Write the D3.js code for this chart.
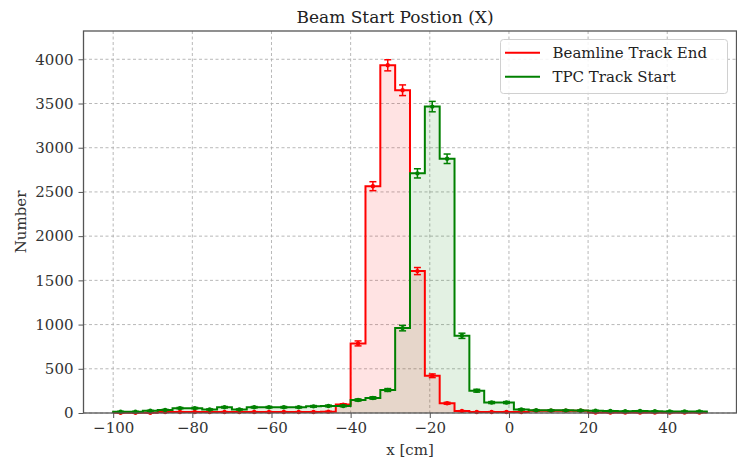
<!DOCTYPE html>
<html>
<head>
<meta charset="utf-8">
<script src="https://cdn.jsdelivr.net/npm/d3@7"></script>
<style>
  html, body { margin: 0; padding: 0; background: #fff; }
  svg { display: block; }
  text { font-family: "DejaVu Serif", "Liberation Serif", serif; }
</style>
</head>
<body>
<svg id="chart" width="737" height="460"></svg>
<script>
// Histogram binning: 40 equal bins spanning -100 .. 50 cm
const binLow = -100;
const binHigh = 50;
const binCount = 40;

// Counts per bin, Beamline track end position (x)
const beamlineCounts = [
  2, 2, 2, 12, 12, 12, 12, 12, 12, 12,
  12, 12, 12, 12, 15, 95, 787, 2565, 3932, 3650,
  1605, 421, 110, 22, 12, 12, 12, 12, 25, 25,
  25, 25, 5, 5, 5, 5, 5, 5, 5, 5
];

// Counts per bin, TPC track start position (x)
const tpcCounts = [
  15, 15, 25, 35, 55, 55, 40, 65, 40, 65,
  65, 65, 65, 75, 80, 80, 147, 170, 260, 960,
  2710, 3465, 2875, 873, 252, 118, 118, 40, 32, 30,
  30, 28, 25, 22, 20, 22, 20, 18, 18, 18
];

const seriesNames = ["Beamline Track End", "TPC Track Start"];
const seriesColors = ["#ff0000", "#008000"];

const xTicks = [-100, -80, -60, -40, -20, 0, 20, 40];
const yTicks = [0, 500, 1000, 1500, 2000, 2500, 3000, 3500, 4000];
const xDomain = [-107.5, 57.5];
const yDomain = [0, 4320];

const titleText = "Beam Start Postion (X)";
const xLabelText = "x [cm]";
const yLabelText = "Number";

// ---- layout ----
const plot = { left: 83.5, right: 736.5, top: 31, bottom: 413 };

const svg = d3.select("#chart");
const x = d3.scaleLinear().domain(xDomain).range([plot.left, plot.right]);
const y = d3.scaleLinear().domain(yDomain).range([plot.bottom, plot.top]);

const binWidth = (binHigh - binLow) / binCount;
const edges = d3.range(binCount + 1).map(i => binLow + i * binWidth);

// grid
const grid = svg.append("g");
grid.selectAll(".gx").data(xTicks).join("line")
  .attr("x1", d => x(d)).attr("x2", d => x(d))
  .attr("y1", plot.top).attr("y2", plot.bottom)
  .attr("stroke", "#b0b0b0").attr("stroke-width", 0.9)
  .attr("stroke-dasharray", "3,2.5");
grid.selectAll(".gy").data(yTicks).join("line")
  .attr("x1", plot.left).attr("x2", plot.right)
  .attr("y1", d => y(d)).attr("y2", d => y(d))
  .attr("stroke", "#b0b0b0").attr("stroke-width", 0.9)
  .attr("stroke-dasharray", "3,2.5");

// step outline path for a histogram
function stepPoints(counts) {
  const pts = [[edges[0], 0]];
  counts.forEach((c, i) => {
    pts.push([edges[i], c]);
    pts.push([edges[i + 1], c]);
  });
  pts.push([edges[binCount], 0]);
  return pts;
}
const line = d3.line().x(p => x(p[0])).y(p => y(p[1]));

const allCounts = [beamlineCounts, tpcCounts];

// filled areas
const fills = svg.append("g");
[1, 0].forEach(s => {
  fills.append("path")
    .attr("d", line(stepPoints(allCounts[s])) + "Z")
    .attr("fill", seriesColors[s])
    .attr("fill-opacity", 0.11)
    .attr("stroke", "none");
});

// outlines and error bars
const marks = svg.append("g");
[0, 1].forEach(s => {
  const counts = allCounts[s];
  const col = seriesColors[s];
  marks.append("path")
    .attr("d", line(stepPoints(counts)))
    .attr("fill", "none")
    .attr("stroke", col)
    .attr("stroke-width", 2)
    .attr("stroke-linejoin", "miter");

  const eb = marks.append("g");
  counts.forEach((c, i) => {
    const cx = x((edges[i] + edges[i + 1]) / 2);
    const err = Math.sqrt(c);
    const y0 = y(c - err), y1 = y(c + err);
    eb.append("line").attr("x1", cx).attr("x2", cx).attr("y1", y0).attr("y2", y1)
      .attr("stroke", col).attr("stroke-width", 1.5);
    [y0, y1].forEach(yy => eb.append("line")
      .attr("x1", cx - 3.5).attr("x2", cx + 3.5).attr("y1", yy).attr("y2", yy)
      .attr("stroke", col).attr("stroke-width", 1.5));
    eb.append("circle").attr("cx", cx).attr("cy", y(c)).attr("r", 2.2).attr("fill", col);
  });
});

// axes
const fmt = d3.format("d");
const xAxis = svg.append("g").attr("transform", `translate(0,${plot.bottom})`)
  .call(d3.axisBottom(x).tickValues(xTicks).tickFormat(fmt).tickSizeOuter(0).tickSize(5).tickPadding(4));
const yAxis = svg.append("g").attr("transform", `translate(${plot.left},0)`)
  .call(d3.axisLeft(y).tickValues(yTicks).tickFormat(fmt).tickSizeOuter(0).tickSize(5).tickPadding(5));
[xAxis, yAxis].forEach(a => {
  a.select(".domain").remove();
  a.selectAll(".tick line").attr("stroke", "#555").attr("stroke-width", 1);
  a.selectAll(".tick text")
    .attr("fill", "#333")
    .style("font-family", "'DejaVu Serif', serif")
    .style("font-size", "15px");
});

// frame
svg.append("rect")
  .attr("x", plot.left).attr("y", plot.top)
  .attr("width", plot.right - plot.left).attr("height", plot.bottom - plot.top)
  .attr("fill", "none").attr("stroke", "#555").attr("stroke-width", 1.3);

// title and labels
svg.append("text").attr("x", 395).attr("y", 23)
  .attr("text-anchor", "middle").attr("fill", "#222")
  .style("font-size", "17px").text(titleText);
svg.append("text").attr("x", (plot.left + plot.right) / 2).attr("y", 455)
  .attr("text-anchor", "middle").attr("fill", "#333")
  .style("font-size", "15px").text(xLabelText);
svg.append("text")
  .attr("transform", `translate(26,${(plot.top + plot.bottom) / 2}) rotate(-90)`)
  .attr("text-anchor", "middle").attr("fill", "#333")
  .style("font-size", "15px").text(yLabelText);

// legend
const lg = svg.append("g");
lg.append("rect").attr("x", 500.5).attr("y", 39.5).attr("width", 227).attr("height", 54)
  .attr("rx", 3).attr("fill", "#fff").attr("fill-opacity", 0.85)
  .attr("stroke", "#d0d0d0").attr("stroke-width", 1);
seriesNames.forEach((name, i) => {
  const ly = 52.7 + i * 24;
  lg.append("line").attr("x1", 505).attr("x2", 540).attr("y1", ly).attr("y2", ly)
    .attr("stroke", seriesColors[i]).attr("stroke-width", 2);
  lg.append("text").attr("x", 552.5).attr("y", ly + 5)
    .attr("fill", "#222").style("font-size", "15px").text(name);
});
</script>
</body>
</html>
